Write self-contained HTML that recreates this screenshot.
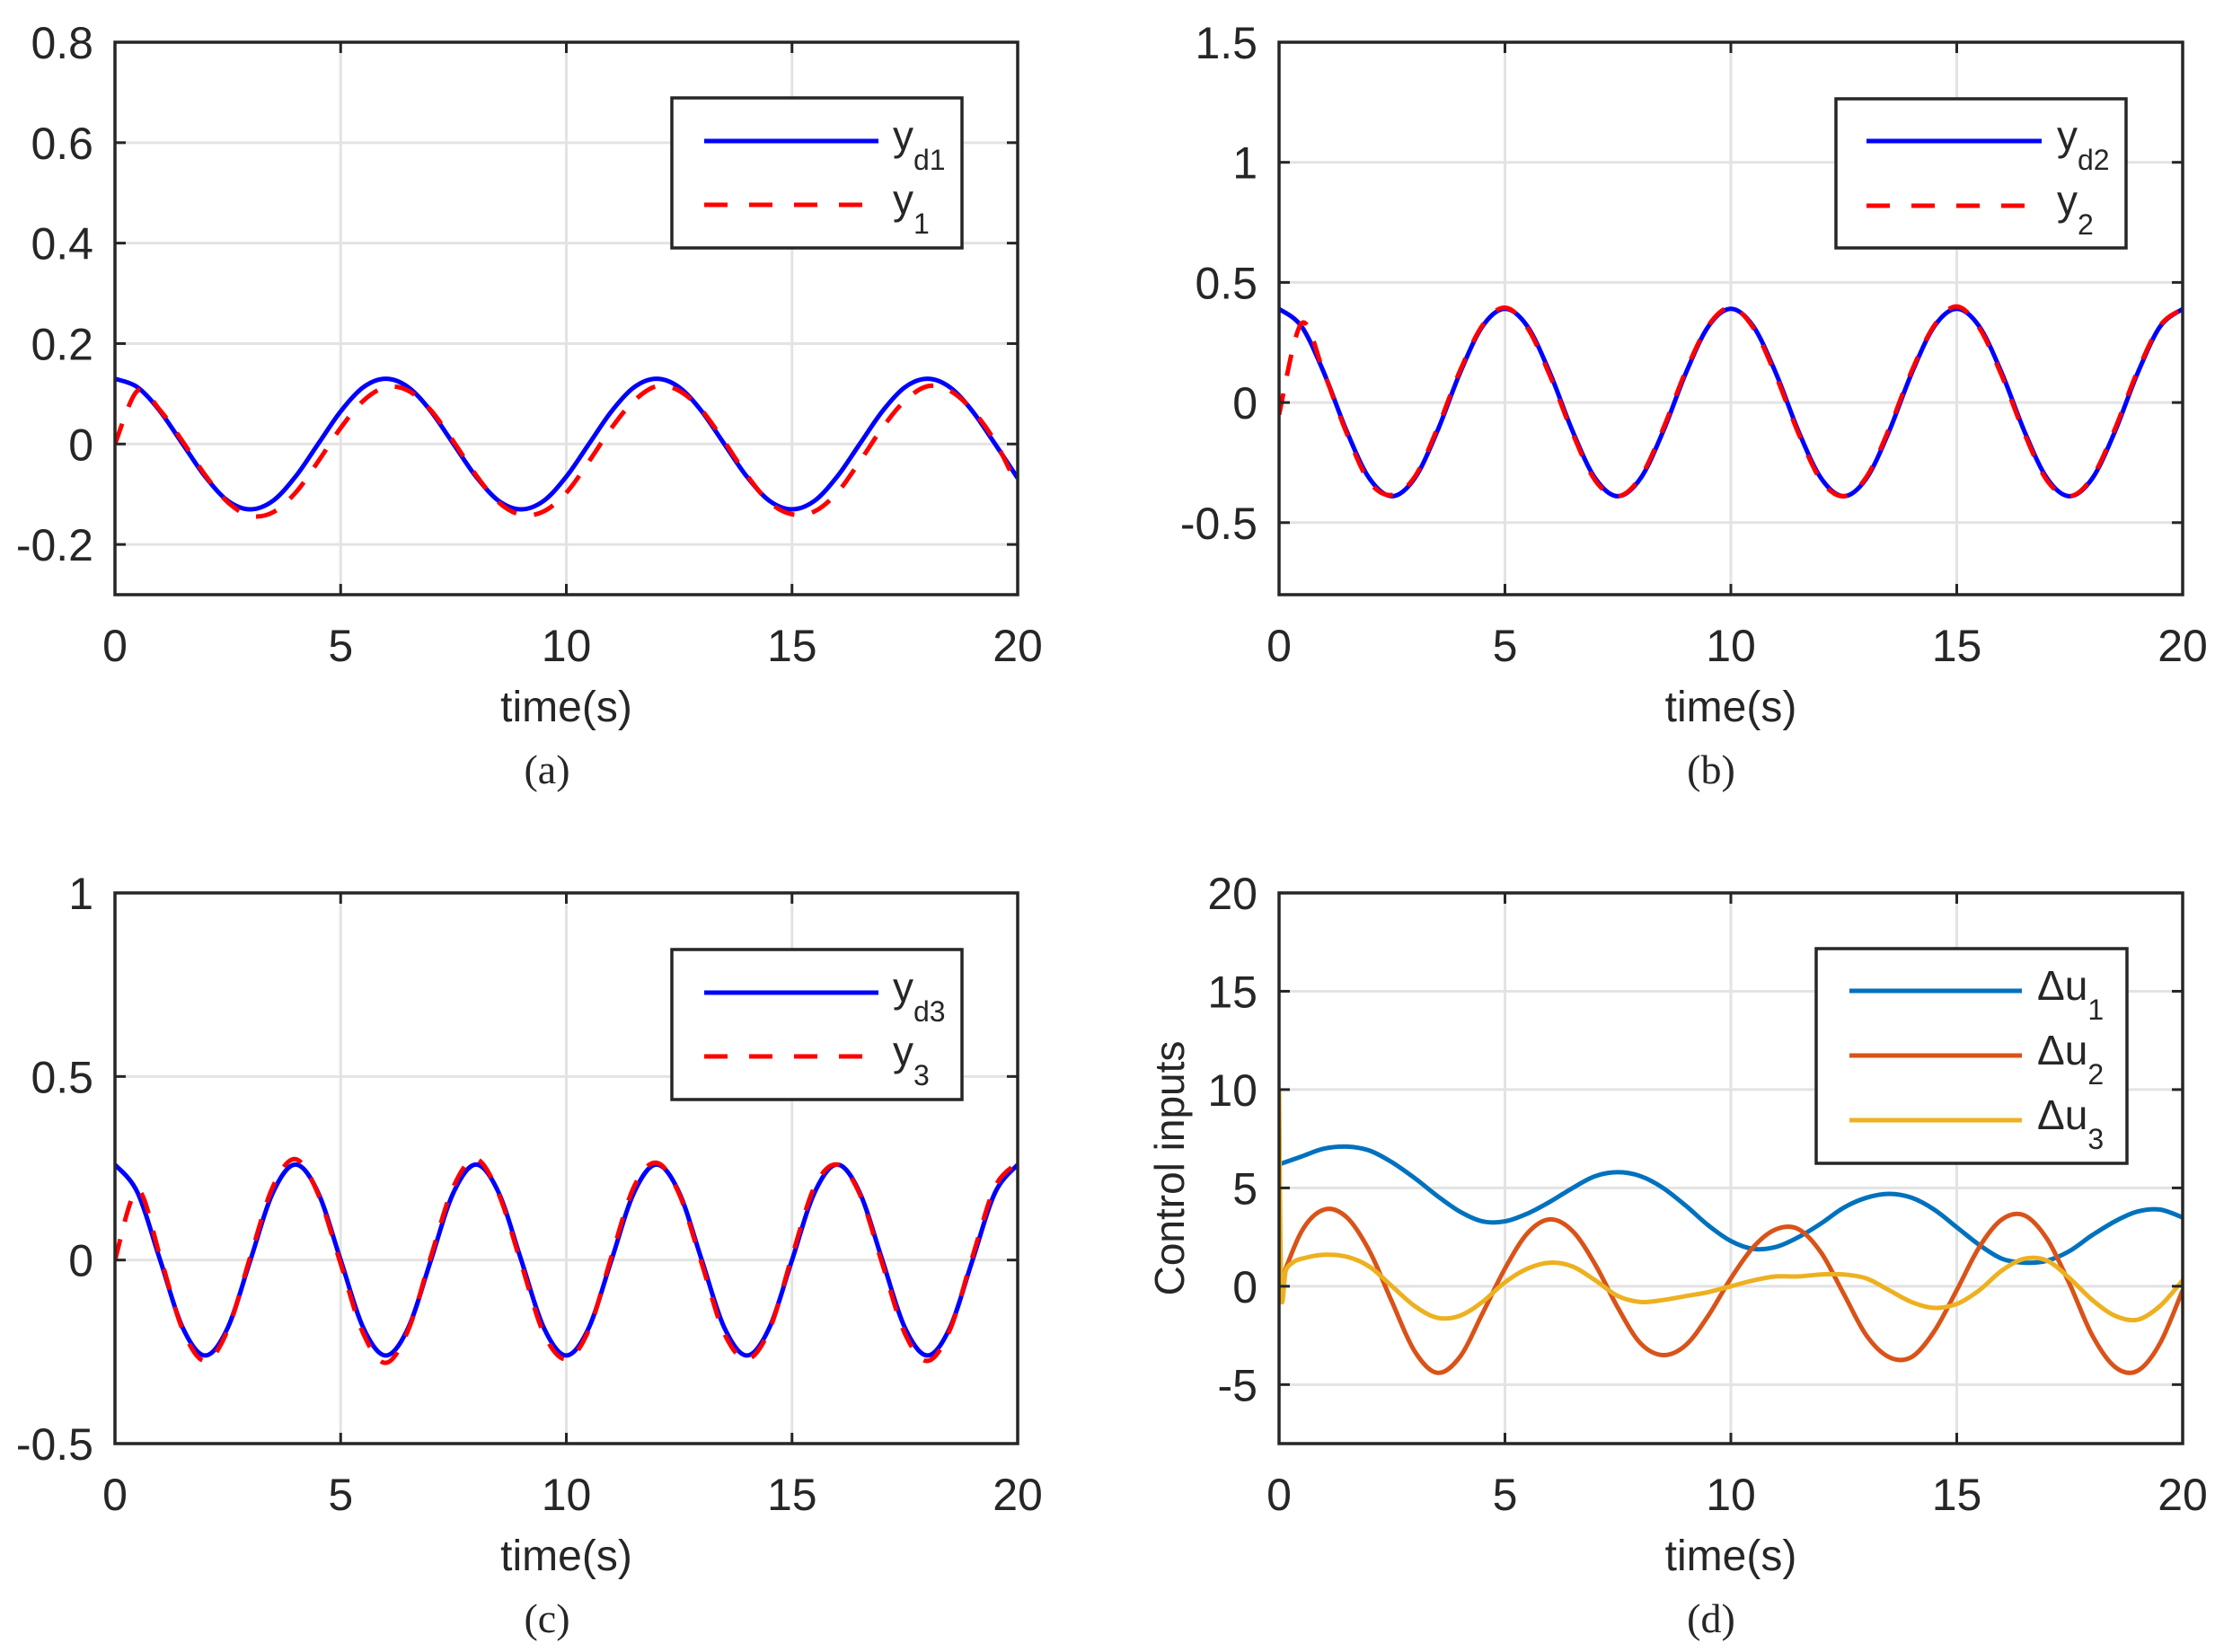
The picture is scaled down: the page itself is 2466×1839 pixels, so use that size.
<!DOCTYPE html>
<html><head><meta charset="utf-8"><style>
html,body{margin:0;padding:0;background:#fff}
svg{display:block}
text{font-family:"Liberation Sans",sans-serif;fill:#262626}
</style></head><body>
<svg id="fig" width="2466" height="1839" viewBox="0 0 2466 1839" xmlns="http://www.w3.org/2000/svg"></svg>
<script>
// ---- data ----
const xTicks = [0,5,10,15,20];
const ticksA = ["-0.2","0","0.2","0.4","0.6","0.8"];
const ticksB = ["-0.5","0","0.5","1","1.5"];
const ticksC = ["-0.5","0","0.5","1"];
const ticksD = ["-5","0","5","10","15","20"];
// 0.5 s sampling, t = 0..20
const yd1 = [0.13,0.113,0.065,0,-0.065,-0.113,-0.13,-0.113,-0.065,0,0.065,0.113,0.13,0.113,0.065,0,-0.065,-0.113,-0.13,-0.113,-0.065,0,0.065,0.113,0.13,0.113,0.065,0,-0.065,-0.113,-0.13,-0.113,-0.065,0,0.065,0.113,0.13,0.113,0.065,0,-0.068];
const y1 = [0,0.106,0.067,0.005,-0.062,-0.116,-0.143,-0.136,-0.097,-0.035,0.032,0.086,0.113,0.106,0.067,0.005,-0.062,-0.116,-0.141,-0.134,-0.097,-0.035,0.032,0.086,0.115,0.106,0.067,0.005,-0.062,-0.116,-0.14,-0.134,-0.097,-0.035,0.032,0.086,0.115,0.106,0.067,0.005,-0.085];
const yd2 = [0.39,0.316,0.121,-0.121,-0.316,-0.39,-0.316,-0.121,0.121,0.316,0.39,0.316,0.121,-0.121,-0.316,-0.39,-0.316,-0.121,0.121,0.316,0.39,0.316,0.121,-0.121,-0.316,-0.39,-0.316,-0.121,0.121,0.316,0.39,0.316,0.121,-0.121,-0.316,-0.39,-0.316,-0.121,0.121,0.316,0.39];
const y2 = [-0.05,0.33,0.12,-0.13,-0.33,-0.385,-0.31,-0.11,0.13,0.32,0.395,0.31,0.11,-0.13,-0.325,-0.39,-0.31,-0.11,0.13,0.32,0.395,0.31,0.11,-0.13,-0.325,-0.39,-0.31,-0.11,0.13,0.32,0.4,0.31,0.11,-0.13,-0.325,-0.39,-0.31,-0.11,0.13,0.32,0.39];
const yd3 = [0.26,0.184,0,-0.184,-0.26,-0.184,0,0.184,0.26,0.184,0,-0.184,-0.26,-0.184,0,0.184,0.26,0.184,0,-0.184,-0.26,-0.184,0,0.184,0.26,0.184,0,-0.184,-0.26,-0.184,0,0.184,0.26,0.184,0,-0.184,-0.26,-0.184,0,0.184,0.26];
const y3 = [0,0.19,0.01,-0.19,-0.275,-0.19,0.01,0.2,0.275,0.18,-0.01,-0.2,-0.28,-0.19,0.01,0.2,0.275,0.18,-0.01,-0.2,-0.27,-0.19,0.01,0.2,0.265,0.18,-0.01,-0.2,-0.27,-0.19,0.01,0.2,0.26,0.18,-0.01,-0.2,-0.275,-0.19,0.01,0.2,0.265];
const u1 = [6.2,6.6,7.0,7.1,6.9,6.3,5.5,4.6,3.8,3.3,3.3,3.7,4.3,5.0,5.6,5.8,5.6,5.0,4.1,3.1,2.3,1.9,2.0,2.5,3.2,4.0,4.5,4.7,4.5,3.9,3.0,2.1,1.4,1.2,1.3,1.8,2.6,3.3,3.8,3.9,3.5];
const u2 = [0,2.8,3.9,3.5,1.8,-0.8,-3.3,-4.4,-3.6,-1.4,0.9,2.7,3.4,2.8,1.1,-1.1,-2.9,-3.5,-3.0,-1.5,0.4,2.0,2.9,2.9,1.7,-0.4,-2.5,-3.6,-3.6,-2.3,-0.2,2.0,3.4,3.6,2.4,0.1,-2.5,-4.1,-4.3,-2.9,-0.2];
const u3Times = [0,0.05,0.15,0.3,0.5,1,1.5,2,2.5,3,3.5,4,4.5,5,5.5,6,6.5,7,7.5,8,8.5,9,9.5,10,10.5,11,11.5,12,12.5,13,13.5,14,14.5,15,15.5,16,16.5,17,17.5,18,18.5,19,19.5,20];
const u3 = [10,-0.3,0.8,1.2,1.4,1.6,1.5,1.0,0.0,-1.0,-1.6,-1.5,-0.8,0.2,0.9,1.2,1.0,0.3,-0.5,-0.8,-0.7,-0.5,-0.3,0.0,0.3,0.5,0.5,0.6,0.6,0.4,-0.2,-0.8,-1.1,-0.9,-0.2,0.8,1.4,1.3,0.4,-0.7,-1.5,-1.7,-1.0,0.3];

const NS="http://www.w3.org/2000/svg";
const svg=document.getElementById('fig');
function el(tag,attrs,parent){const e=document.createElementNS(NS,tag);for(const k in attrs)e.setAttribute(k,attrs[k]);(parent||svg).appendChild(e);return e;}
function halfSteps(n){const t=[];for(let i=0;i<n;i++)t.push(i*0.5);return t;}

function smoothPath(pts){
  let d="M"+pts[0][0].toFixed(1)+","+pts[0][1].toFixed(1);
  for(let i=0;i<pts.length-1;i++){
    const p0=pts[Math.max(0,i-1)],p1=pts[i],p2=pts[i+1],p3=pts[Math.min(pts.length-1,i+2)];
    const c1=[p1[0]+(p2[0]-p0[0])/6,p1[1]+(p2[1]-p0[1])/6];
    const c2=[p2[0]-(p3[0]-p1[0])/6,p2[1]-(p3[1]-p1[1])/6];
    d+="C"+c1[0].toFixed(1)+","+c1[1].toFixed(1)+" "+c2[0].toFixed(1)+","+c2[1].toFixed(1)+" "+p2[0].toFixed(1)+","+p2[1].toFixed(1);
  }
  return d;
}

function panel(cfg){
  const g=el('g',{});
  
  
  const {x0,x1,y0,y1,ymin,ymax}=cfg;
  const sx=v=>x0+(v-0)/(20-0)*(x1-x0);
  const sy=v=>y1-(v-ymin)/(ymax-ymin)*(y1-y0);
  xTicks.forEach(v=>{const l=el('line',{x1:sx(v),x2:sx(v),y1:y0,y2:y1,stroke:'#e3e3e3','stroke-width':3},g);
    });
  cfg.yticks.forEach(s=>{const v=parseFloat(s);const l=el('line',{x1:x0,x2:x1,y1:sy(v),y2:sy(v),stroke:'#e3e3e3','stroke-width':3},g);
    });
  const clip=el('clipPath',{id:'clip-'+cfg.name},g);el('rect',{x:x0,y:y0,width:x1-x0,height:y1-y0},clip);
  const sg=el('g',{'clip-path':'url(#clip-'+cfg.name+')'},g);
  cfg.series.forEach(s=>{
    const pts=s.v.map((v,i)=>[sx(s.t[i]),sy(v)]);
    const p=el('path',{d:smoothPath(pts),fill:'none',stroke:s.c,'stroke-width':5,'stroke-linejoin':'round'},sg);
    if(s.dash)p.setAttribute('stroke-dasharray','24,20');
    
    
  });
  const b=el('rect',{x:x0,y:y0,width:x1-x0,height:y1-y0,fill:'none',stroke:'#262626','stroke-width':3.5},g);
  
  xTicks.forEach(v=>{
    el('line',{x1:sx(v),x2:sx(v),y1:y1,y2:y1-12,stroke:'#262626','stroke-width':3},g);
    el('line',{x1:sx(v),x2:sx(v),y1:y0,y2:y0+12,stroke:'#262626','stroke-width':3},g);
    const t=el('text',{x:sx(v),y:y1+74,'font-size':50,'text-anchor':'middle'},g);t.textContent=v;
    
  });
  cfg.yticks.forEach(s=>{const v=parseFloat(s);
    el('line',{x1:x0,x2:x0+12,y1:sy(v),y2:sy(v),stroke:'#262626','stroke-width':3},g);
    el('line',{x1:x1,x2:x1-12,y1:sy(v),y2:sy(v),stroke:'#262626','stroke-width':3},g);
    const t=el('text',{x:x0-24,y:sy(v)+18,'font-size':50,'text-anchor':'end'},g);t.textContent=s;
    
  });
  const xl=el('text',{x:(x0+x1)/2,y:y1+141,'font-size':48,'text-anchor':'middle'},g);xl.textContent='time(s)';
  
  const cap=el('text',{x:cfg.capX,y:y1+210,'font-size':46,'text-anchor':'middle',style:'font-family:"Liberation Serif",serif'},g);cap.textContent=cfg.caption;
  
  if(cfg.ylabel){const yl=el('text',{x:0,y:0,'font-size':46,'text-anchor':'middle',transform:'translate('+(x0-106)+','+((y0+y1)/2)+') rotate(-90)'},g);yl.textContent=cfg.ylabel;
    }
  const L=cfg.legend;
  const lg=el('g',{},g);
  
  el('rect',{x:L.x,y:L.y,width:L.w,height:L.h,fill:'#fff',stroke:'#262626','stroke-width':3.5},lg);
  cfg.series.forEach((s,i)=>{
    const yy=L.y+L.first+i*L.step;
    const ln=el('line',{x1:L.x+L.lx0,x2:L.x+L.lx1,y1:yy,y2:yy,stroke:s.c,'stroke-width':5},lg);
    if(s.dash)ln.setAttribute('stroke-dasharray','26,24');
    const t=el('text',{x:L.x+L.tx,y:yy+10,'font-size':46},lg);
    
    const a=el('tspan',{},t);a.textContent=s.lab;
    const sub=el('tspan',{'font-size':32,dy:22},t);sub.textContent=s.sub;
  });
}

const tH=halfSteps(41);
panel({name:'panel-a',x0:128,x1:1133,y0:47,y1:662,ymin:-0.3,ymax:0.8,yticks:ticksA,caption:'(a)',capX:609,
  legend:{x:748,y:109,w:323,h:167,first:48,step:71,lx0:36,lx1:230,tx:246},
  series:[{id:'yd1',t:tH,v:yd1,c:'#0000ff',lab:'y',sub:'d1'},{id:'y1',t:tH,v:y1,c:'#ff0000',dash:true,lab:'y',sub:'1'}]});
panel({name:'panel-b',x0:1424,x1:2430,y0:47,y1:662,ymin:-0.8,ymax:1.5,yticks:ticksB,caption:'(b)',capX:1905,
  legend:{x:2044,y:110,w:323,h:166,first:47,step:72,lx0:34,lx1:229,tx:246},
  series:[{id:'yd2',t:tH,v:yd2,c:'#0000ff',lab:'y',sub:'d2'},{id:'y2',t:tH,v:y2,c:'#ff0000',dash:true,lab:'y',sub:'2'}]});
panel({name:'panel-c',x0:128,x1:1133,y0:994,y1:1607,ymin:-0.5,ymax:1,yticks:ticksC,caption:'(c)',capX:609,
  legend:{x:748,y:1057,w:323,h:167,first:48,step:71,lx0:36,lx1:230,tx:246},
  series:[{id:'yd3',t:tH,v:yd3,c:'#0000ff',lab:'y',sub:'d3'},{id:'y3',t:tH,v:y3,c:'#ff0000',dash:true,lab:'y',sub:'3'}]});
panel({name:'panel-d',x0:1424,x1:2430,y0:994,y1:1607,ymin:-8,ymax:20,yticks:ticksD,caption:'(d)',capX:1905,ylabel:'Control inputs',
  legend:{x:2022,y:1056,w:346,h:239,first:47,step:72,lx0:37,lx1:229,tx:246},
  series:[{id:'u1',t:tH,v:u1,c:'#0072bd',lab:'Δu',sub:'1'},{id:'u2',t:tH,v:u2,c:'#d95319',lab:'Δu',sub:'2'},{id:'u3',t:u3Times,v:u3,c:'#edb120',lab:'Δu',sub:'3'}]});
</script>
</body></html>
